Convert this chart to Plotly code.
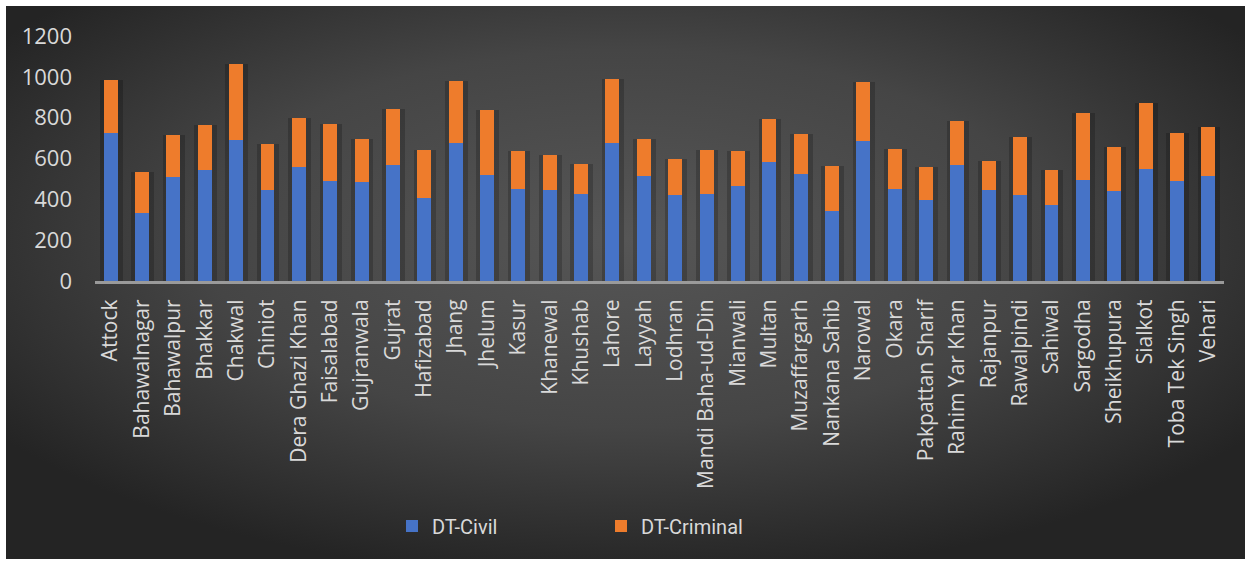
import base64
import plotly.graph_objects as go

districts = [
    "Attock", "Bahawalnagar", "Bahawalpur", "Bhakkar", "Chakwal", "Chiniot",
    "Dera Ghazi Khan", "Faisalabad", "Gujranwala", "Gujrat", "Hafizabad",
    "Jhang", "Jhelum", "Kasur", "Khanewal", "Khushab", "Lahore", "Layyah",
    "Lodhran", "Mandi Baha-ud-Din", "Mianwali", "Multan", "Muzaffargarh",
    "Nankana Sahib", "Narowal", "Okara", "Pakpattan Sharif", "Rahim Yar Khan",
    "Rajanpur", "Rawalpindi", "Sahiwal", "Sargodha", "Sheikhupura", "Sialkot",
    "Toba Tek Singh", "Vehari",
]

# totals (civil + criminal) and civil share per district
dt_total = [
    985, 534, 715, 764, 1063, 671, 799, 769, 696, 843, 642, 980, 838, 637,
    617, 573, 990, 696, 598, 642, 637, 794, 720, 563, 975, 647, 559, 784,
    588, 706, 544, 823, 657, 872, 725, 755,
]
dt_civil = [
    724, 332, 508, 544, 691, 446, 557, 488, 485, 567, 407, 675, 518, 449,
    446, 426, 674, 514, 420, 426, 465, 583, 524, 341, 684, 449, 397, 567,
    446, 420, 371, 495, 439, 547, 489, 514,
]
dt_criminal = [t - c for t, c in zip(dt_total, dt_civil)]

y_ticks = [0, 200, 400, 600, 800, 1000, 1200]

W, H = 1251, 561
ML, MR, MT, MB = 95, 27, 36, 280
PW, PH = W - ML - MR, H - MT - MB

# dark radial backdrop for the chart panel
svg = (
    '<svg xmlns="http://www.w3.org/2000/svg" width="1239" height="553" '
    'viewBox="0 0 100 100" preserveAspectRatio="none">'
    '<defs><radialGradient id="g" cx="50%" cy="42%" r="62%">'
    '<stop offset="0" stop-color="#565656"/>'
    '<stop offset="0.55" stop-color="#454545"/>'
    '<stop offset="1" stop-color="#242424"/>'
    '</radialGradient></defs>'
    '<rect x="0" y="0" width="100" height="100" fill="url(#g)"/></svg>'
)
bg_src = "data:image/svg+xml;base64," + base64.b64encode(svg.encode()).decode()

panel_left, panel_top, panel_right, panel_bottom = 6, 6, 1245, 559

fig = go.Figure()

# soft shadow halo behind each bar, on its own category axis
fig.add_trace(go.Bar(
    x=districts, y=dt_total, xaxis="x", yaxis="y",
    marker=dict(color="rgba(0,0,0,0.2)", line=dict(width=0)),
    width=0.72, offset=-0.34, showlegend=False, hoverinfo="skip",
))

fig.add_trace(go.Bar(
    x=districts, y=dt_civil, name="DT-Civil", xaxis="x2", yaxis="y",
    marker=dict(color="#4673c7", line=dict(width=0)),
))
fig.add_trace(go.Bar(
    x=districts, y=dt_criminal, name="DT-Criminal", xaxis="x2", yaxis="y",
    marker=dict(color="#ee7c2c", line=dict(width=0)),
))

fig.update_layout(
    width=W, height=H,
    margin=dict(l=ML, r=MR, t=MT, b=MB),
    paper_bgcolor="white",
    plot_bgcolor="rgba(0,0,0,0)",
    barmode="stack",
    bargap=0.555,
    font=dict(family="Open Sans, DejaVu Sans, sans-serif", color="#d9d9d9"),
    images=[dict(
        source=bg_src, xref="paper", yref="paper",
        x=(panel_left - ML) / PW, y=1 + (MT - panel_top) / PH,
        sizex=(panel_right - panel_left) / PW,
        sizey=(panel_bottom - panel_top) / PH,
        sizing="stretch", xanchor="left", yanchor="top", layer="below",
    )],
    xaxis=dict(
        type="category", categoryorder="array", categoryarray=districts,
        tickangle=-90, tickfont=dict(size=21, color="#d9d9d9"),
        showgrid=False, zeroline=False,
        showline=True, linecolor="#9a9a9a", linewidth=3,
        ticks="", ticklabelstandoff=7,
    ),
    xaxis2=dict(
        type="category", categoryorder="array", categoryarray=districts,
        overlaying="x", matches="x", showticklabels=False,
        showgrid=False, zeroline=False, showline=False, ticks="",
    ),
    yaxis=dict(
        range=[0, 1200], tickvals=y_ticks,
        tickfont=dict(size=22, color="#d9d9d9"),
        showgrid=False, zeroline=False, showline=False, ticks="",
        ticklabelstandoff=22,
    ),
    legend=dict(
        orientation="h", x=(392 - ML) / PW, xanchor="left",
        y=1 - (526 - MT) / PH, yanchor="middle",
        font=dict(family="Roboto, sans-serif", size=20, color="#d9d9d9"),
        bgcolor="rgba(0,0,0,0)", traceorder="normal",
        itemwidth=30, entrywidth=164, entrywidthmode="pixels",
    ),
)

fig.write_html("out.html")
